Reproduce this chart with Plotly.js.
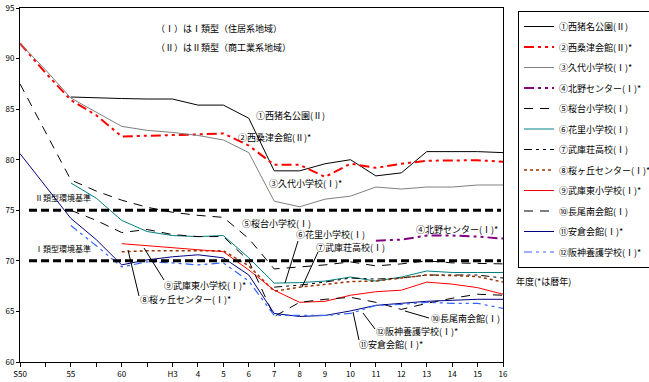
<!DOCTYPE html>
<html><head><meta charset="utf-8">
<script src="https://cdn.plot.ly/plotly-3.0.1.min.js"></script>
<style>html,body{margin:0;padding:0;background:#fff}#c{width:649px;height:382px}</style>
</head><body><div id="c"></div>
<script>
const cats = ['S50','','55','','60','','H3','4','5','6','7','8','9','10','11','12','13','14','15','16'];
const xi = cats.map((_, i) => i);
const names = ['①西猪名公園(Ⅱ)','②西桑津会館(Ⅱ)*','③久代小学校(Ⅰ)*','④北野センター(Ⅰ)*','⑤桜台小学校(Ⅰ)','⑥花里小学校(Ⅰ)','⑦武庫荘高校(Ⅰ)','⑧桜ヶ丘センター(Ⅰ)*','⑨武庫東小学校(Ⅰ)*','⑩長尾南会館(Ⅰ)','⑪安倉会館(Ⅰ)*','⑫阪神養護学校(Ⅰ)*'];
const s1  = [null,null,86.2,86.1,86.05,86.0,86.0,85.4,85.4,84.1,78.9,78.9,79.6,80.0,78.4,78.7,80.8,80.8,80.8,80.7];
const s2  = [91.5,88.6,85.9,84.4,82.3,82.35,82.45,82.5,82.6,81.4,79.5,79.5,78.3,79.6,79.2,79.6,79.9,79.9,79.95,79.8];
const s3  = [91.5,88.9,86.1,84.7,83.3,82.9,82.7,82.4,81.95,80.7,75.9,75.35,76.1,76.4,77.3,77.1,77.3,77.3,77.5,77.5];
const s4  = [null,null,null,null,null,null,null,null,null,null,null,null,null,null,72.0,72.1,72.5,72.5,72.4,72.2];
const s5  = [87.5,82.7,78.0,76.9,76.0,75.3,74.8,74.5,74.3,72.2,69.2,69.4,69.6,69.9,69.5,69.7,70.0,69.8,69.75,69.7];
const s6  = [null,null,77.7,76.2,74.0,72.9,72.5,72.4,72.5,70.3,67.8,67.85,68.0,68.4,68.0,68.4,69.0,68.85,68.85,68.85];
const s7  = [null,null,null,null,null,null,null,null,null,null,67.4,67.6,67.9,68.3,68.2,68.3,68.6,68.6,68.6,68.3];
const s8  = [null,null,null,null,70.9,71.0,71.0,71.0,71.0,69.5,67.0,67.4,67.7,67.95,68.0,68.3,68.6,68.55,68.45,67.9];
const s9  = [null,null,null,null,71.7,71.5,71.3,71.1,70.9,69.1,67.1,65.9,66.0,66.6,66.95,67.1,67.9,67.7,67.35,66.7];
const s10 = [null,null,75.0,74.0,72.8,73.1,72.6,72.4,72.4,70.0,64.5,65.9,66.2,66.4,65.9,65.2,65.8,66.3,66.7,66.6];
const s11 = [80.6,77.4,74.2,72.1,69.6,70.1,70.4,70.6,70.3,68.6,64.8,64.5,64.6,65.05,65.6,65.8,66.0,66.1,66.2,66.2];
const s12 = [null,null,73.5,71.5,69.4,69.9,69.8,69.6,69.8,68.0,64.6,64.6,64.6,64.8,65.6,65.7,65.9,65.8,65.8,65.3];
const stdII = 75, stdI = 70;

const series = [s1,s2,s3,s4,s5,s6,s7,s8,s9,s10,s11,s12];
const styles = [
  {color:'#000000', width:1, dash:'solid'},
  {color:'#FF0000', width:2, dash:'10px,4px,3px,4px,3px,4px'},
  {color:'#808080', width:1, dash:'solid'},
  {color:'#800080', width:2, dash:'10px,4px,3px,4px,3px,4px'},
  {color:'#000000', width:1, dash:'9px,7px'},
  {color:'#008080', width:1, dash:'solid'},
  {color:'#000000', width:1, dash:'8px,4px,3px,4px,3px,4px'},
  {color:'#993300', width:1.5, dash:'3px,3px'},
  {color:'#FF0000', width:1, dash:'solid'},
  {color:'#000000', width:1, dash:'9px,7px'},
  {color:'#000080', width:1, dash:'solid'},
  {color:'#3366FF', width:1.2, dash:'8px,4px,3px,4px,3px,4px'}
];
const FONT = '"Noto Sans CJK JP", "Noto Sans", sans-serif';
const traces = series.map((s, k) => ({
  x: xi, y: s, name: names[k], type: 'scatter', mode: 'lines',
  line: styles[k], legendgroup: 'g' + k, connectgaps: false, hoverinfo: 'skip'
}));

// plot area pixel helpers (plot area 20..503 x, 8..362 y)
const P = px => (px - 20) / 483;
const Q = py => (362 - py) / 354;
function ann(text, px, py, size) {
  return {text, x: P(px), y: Q(py), xref: 'paper', yref: 'paper', xanchor: 'left', yanchor: 'middle',
    showarrow: false, font: {family: FONT, size: size || 9, color: '#000'}};
}
function seg(x0, y0, x1, y1, w, dash) {
  return {type: 'line', xref: 'paper', yref: 'paper', x0: P(x0), y0: Q(y0), x1: P(x1), y1: Q(y1),
    line: {color: '#000', width: w || 1, dash: dash || 'solid'}};
}

const annotations = [
  ann('（Ⅰ）はⅠ類型（住居系地域）', 154, 29),
  ann('（Ⅱ）はⅡ類型（商工業系地域）', 154, 48),
  ann('Ⅱ類型環境基準', 33, 197, 8),
  ann('Ⅰ類型環境基準', 33, 248, 8),
  ann(names[0], 254, 116),
  ann(names[1], 236, 138),
  ann(names[2], 267, 183),
  ann(names[3], 414, 229),
  ann(names[4], 240, 223),
  ann(names[5], 294, 235),
  ann(names[6], 314, 247),
  ann(names[7], 138, 299),
  ann(names[8], 162, 285),
  ann(names[9], 429, 318),
  ann(names[10], 357, 344),
  ann(names[11], 374, 331),
  ann('年度(*は暦年)', 514, 281)
];
const shapes = [
  {type:'line', xref:'paper', yref:'y', x0:P(29), x1:P(501), y0:stdII, y1:stdII, line:{color:'#000', width:3, dash:'8px,4px'}},
  {type:'line', xref:'paper', yref:'y', x0:P(29), x1:P(501), y0:stdI, y1:stdI, line:{color:'#000', width:3, dash:'8px,4px'}},
  seg(139, 296, 128, 250),
  seg(164, 280, 144, 248),
  seg(298, 241, 285, 283),
  seg(318, 252, 302, 287),
  seg(429, 318, 405, 311),
  seg(359, 340, 353, 312),
  seg(375, 329, 363, 313)
];

const layout = {
  width: 649, height: 382,
  margin: {l: 20, r: 146, t: 8, b: 20, pad: 0},
  paper_bgcolor: '#fff', plot_bgcolor: '#fff',
  font: {family: FONT, size: 8, color: '#000'},
  showlegend: true,
  legend: {
    xref: 'container', yref: 'container', x: 518/649, y: 1 - 11/382, xanchor: 'left', yanchor: 'top',
    bordercolor: '#000', borderwidth: 1, bgcolor: '#fff', maxheight: 1,
    font: {family: FONT, size: 9, color: '#000'}, tracegroupgap: 1.5, itemwidth: 30
  },
  xaxis: {
    range: [0, 19], tickvals: xi, ticktext: cats, showgrid: false, zeroline: false,
    showline: true, linecolor: '#000', linewidth: 1, mirror: true,
    ticks: 'outside', ticklen: 4, tickcolor: '#000', tickfont: {size: 8, family: FONT}
  },
  yaxis: {
    range: [60, 95], dtick: 5, showgrid: false, zeroline: false,
    showline: true, linecolor: '#000', linewidth: 1, mirror: true,
    ticks: 'outside', ticklen: 3, tickcolor: '#000', tickfont: {size: 8, family: FONT}
  },
  annotations, shapes
};
Plotly.newPlot('c', traces, layout, {staticPlot: true, displayModeBar: false});
</script></body></html>
